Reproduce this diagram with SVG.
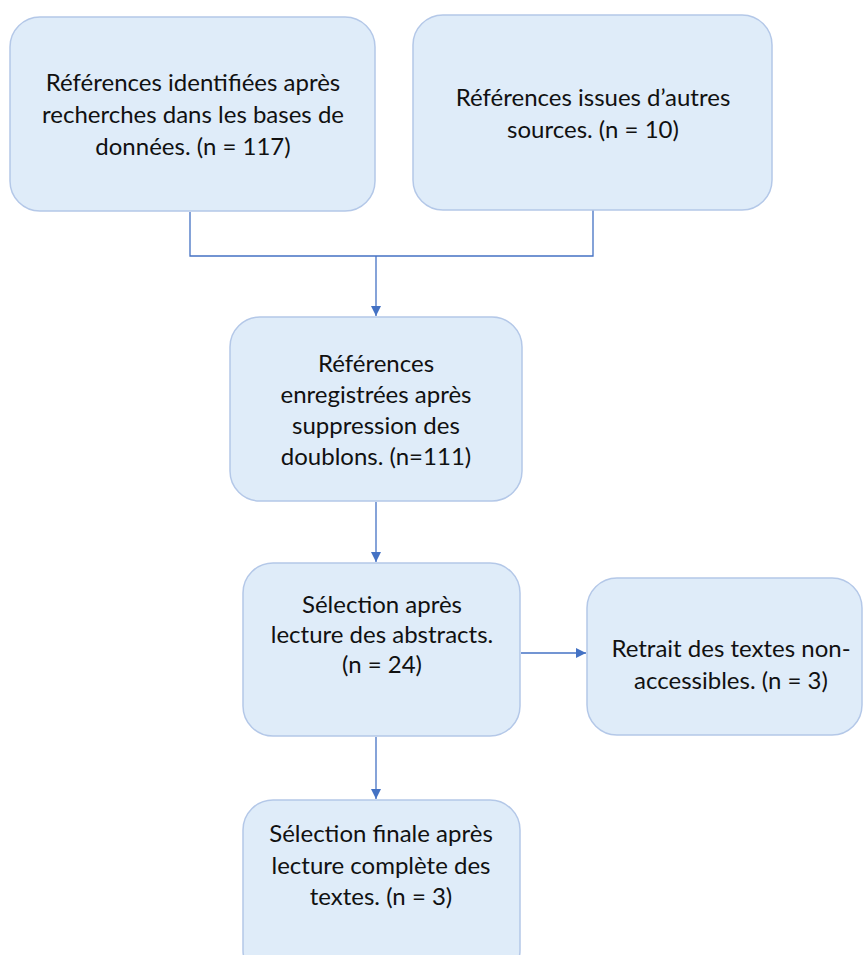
<svg xmlns="http://www.w3.org/2000/svg" width="863" height="955" viewBox="0 0 863 955">
<defs>
<style>
.box{fill:#dfecf9;stroke:#b4c8e8;stroke-width:1.5}
.t{font-family:Lato,"Liberation Sans",sans-serif;font-size:24px;fill:#111;text-anchor:middle}
.c{fill:none;stroke:#4472c4;stroke-width:1.3}
</style>
<marker id="ah" markerWidth="10" markerHeight="10" refX="10" refY="5" orient="auto" markerUnits="userSpaceOnUse">
<path d="M0,0 L10,5 L0,10 Z" fill="#4472c4"/>
</marker>
</defs>
<rect width="863" height="955" fill="#fff"/>
<g id="connectors">
<path class="c" d="M190,212 V256 H593 V210"/>
<path class="c" d="M376,256 V316" marker-end="url(#ah)"/>
<path class="c" d="M376,502 V562" marker-end="url(#ah)"/>
<path class="c" d="M521,653 H586" marker-end="url(#ah)"/>
<path class="c" d="M376,737 V799" marker-end="url(#ah)"/>
</g>
<g id="n1">
<rect class="box" x="10" y="17" width="365" height="194" rx="30"/>
<text class="t" x="193" y="91">Références identifiées après</text>
<text class="t" x="193" y="123">recherches dans les bases de</text>
<text class="t" x="193" y="155">données. (n = 117)</text>
</g>
<g id="n2">
<rect class="box" x="413" y="15" width="359" height="195" rx="30"/>
<text class="t" x="593" y="106">Références issues d’autres</text>
<text class="t" x="593" y="138">sources. (n = 10)</text>
</g>
<g id="n3">
<rect class="box" x="230" y="317" width="292" height="184" rx="30"/>
<text class="t" x="376" y="372">Références</text>
<text class="t" x="376" y="403">enregistrées après</text>
<text class="t" x="376" y="434">suppression des</text>
<text class="t" x="376" y="465">doublons. (n=111)</text>
</g>
<g id="n4">
<rect class="box" x="243" y="563" width="277" height="173" rx="30"/>
<text class="t" x="382" y="613">Sélection après</text>
<text class="t" x="382" y="643">lecture des abstracts.</text>
<text class="t" x="382" y="673">(n = 24)</text>
</g>
<g id="n5">
<rect class="box" x="587" y="578" width="275" height="157" rx="30"/>
<text class="t" x="731" y="657">Retrait des textes non-</text>
<text class="t" x="731" y="689">accessibles. (n = 3)</text>
</g>
<g id="n6">
<rect class="box" x="243" y="800" width="277" height="180" rx="30"/>
<text class="t" x="381" y="842">Sélection finale après</text>
<text class="t" x="381" y="874">lecture complète des</text>
<text class="t" x="381" y="905">textes. (n = 3)</text>
</g>
</svg>
